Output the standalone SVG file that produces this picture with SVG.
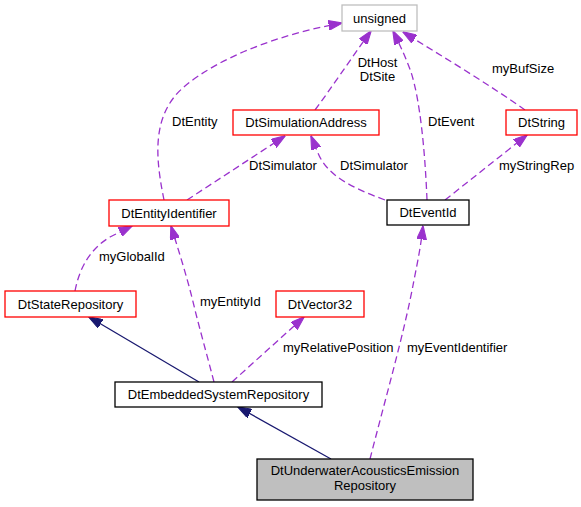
<svg xmlns="http://www.w3.org/2000/svg" width="581" height="507" viewBox="0 0 581 507">
<style>
text{font-family:"Liberation Sans",Arial,sans-serif;font-size:13px;fill:#000}
.n{text-anchor:middle}
.box{fill:#fff;stroke-width:1.3}
.red{stroke:#ff0000}
.blk{stroke:#000}
.gry{stroke:#bfbfbf}
.d{fill:none;stroke:#9a32cd;stroke-width:1.3;stroke-dasharray:7,4;marker-end:url(#pa)}
.s{fill:none;stroke:#191970;stroke-width:1.3;marker-end:url(#na)}
</style>
<defs>
<marker id="pa" markerUnits="userSpaceOnUse" markerWidth="14" markerHeight="10" viewBox="0 0 13 9" refX="12.5" refY="4.5" orient="auto">
<path d="M0,0 L13,4.5 L0,9 z" fill="#9a32cd" stroke="#9a32cd" stroke-width="1"/>
</marker>
<marker id="na" markerUnits="userSpaceOnUse" markerWidth="14" markerHeight="10" viewBox="0 0 13 9" refX="12.5" refY="4.5" orient="auto">
<path d="M0,0 L13,4.5 L0,9 z" fill="#191970" stroke="#191970" stroke-width="1"/>
</marker>
</defs>
<rect width="581" height="507" fill="#fff"/>
<g id="edges">
<path class="d" d="M164,200 C156,160 150,115 185,86 C220,57 280,34 342,23"/>
<path class="d" d="M315,110 C330,90 350,60 371,31"/>
<path class="d" d="M427,200 C425,150 420,100 411,72 C406,58 400,45 393,31"/>
<path class="d" d="M525,110 C490,85 440,55 403,32"/>
<path class="d" d="M187,200 L285,136"/>
<path class="d" d="M385,200 C350,187 327,175 318,153 L311,136"/>
<path class="d" d="M445,200 L527,135"/>
<path class="d" d="M75,291 C80,265 92,248 110,237 L132,226"/>
<path class="d" d="M214,382 C207,355 200,330 195,310 C188,280 180,255 171,226"/>
<path class="d" d="M232,382 L304,317"/>
<path class="d" d="M370,459 C385,400 405,330 414,280 C418,260 421,245 423,226"/>
<path class="s" d="M199,382 L89,317"/>
<path class="s" d="M331,459 L238,407"/>
<text x="172" y="126">DtEntity</text>
<text class="n" x="377.5" y="67">DtHost</text>
<text class="n" x="377.5" y="81">DtSite</text>
<text x="428" y="126">DtEvent</text>
<text x="492" y="73">myBufSize</text>
<text x="249" y="170">DtSimulator</text>
<text x="340" y="170">DtSimulator</text>
<text x="499" y="170">myStringRep</text>
<text x="99" y="261">myGlobalId</text>
<text x="200" y="306">myEntityId</text>
<text x="283" y="352">myRelativePosition</text>
<text x="407" y="352">myEventIdentifier</text>
</g>
<g id="unsigned"><rect class="box gry" x="342" y="5" width="75" height="26"/><text class="n" x="379.5" y="22.5">unsigned</text></g>
<g id="DtSimulationAddress"><rect class="box red" x="233" y="110" width="146" height="25"/><text class="n" x="306" y="127">DtSimulationAddress</text></g>
<g id="DtString"><rect class="box red" x="506" y="110" width="71" height="25"/><text class="n" x="541.5" y="127">DtString</text></g>
<g id="DtEntityIdentifier"><rect class="box red" x="109" y="200" width="120" height="26"/><text class="n" x="169" y="217.5">DtEntityIdentifier</text></g>
<g id="DtEventId"><rect class="box blk" x="387" y="200" width="82" height="25"/><text class="n" x="428" y="217">DtEventId</text></g>
<g id="DtStateRepository"><rect class="box red" x="5" y="291" width="131" height="26"/><text class="n" x="70.5" y="308.5">DtStateRepository</text></g>
<g id="DtVector32"><rect class="box red" x="276" y="291" width="88" height="26"/><text class="n" x="320" y="308.5">DtVector32</text></g>
<g id="DtEmbeddedSystemRepository"><rect class="box blk" x="115" y="382" width="207" height="25"/><text class="n" x="218.5" y="399">DtEmbeddedSystemRepository</text></g>
<g id="DtUnderwaterAcousticsEmissionRepository"><rect x="257" y="459" width="216" height="41" fill="#bfbfbf" stroke="#000" stroke-width="1.3"/><text class="n" x="365" y="475">DtUnderwaterAcousticsEmission</text><text class="n" x="365" y="490">Repository</text></g>
</svg>
